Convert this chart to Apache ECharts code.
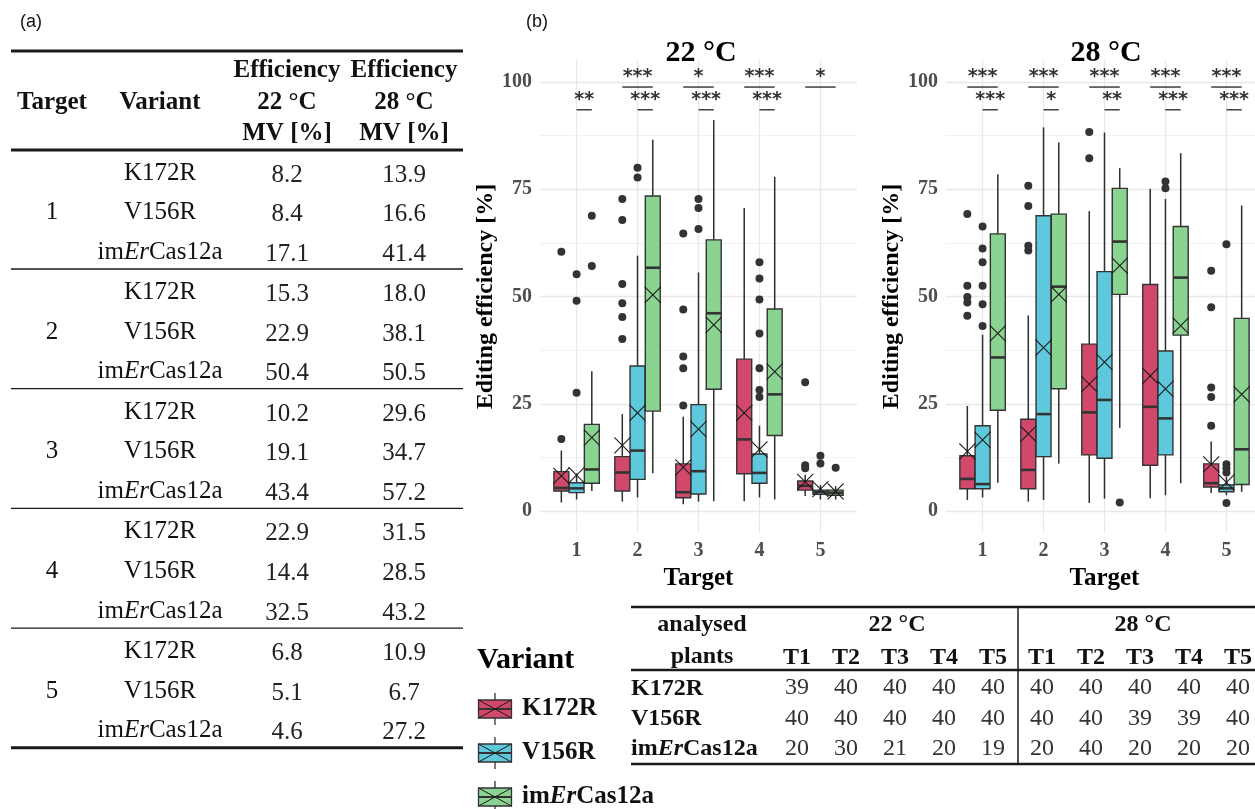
<!DOCTYPE html>
<html><head><meta charset="utf-8">
<script src="https://cdn.jsdelivr.net/npm/echarts@6/dist/echarts.min.js"></script>
<style>html,body{margin:0;padding:0;background:#fff}#c{width:1255px;height:809px}</style>
</head><body><div id="c"></div>
<script>
// ---------------- data ----------------
const targets = ['1', '2', '3', '4', '5'];
const variants = ['K172R', 'V156R', 'imErCas12a'];
const yTicks = [0, 25, 50, 75, 100];
const temps = ['22 °C', '28 °C'];

// box statistics per target: [low whisker, Q1, median, Q3, high whisker]
const box22K = [[2.0, 4.7, 5.4, 9.2, 14.1], [2.2, 4.7, 9.0, 12.7, 22.6], [1.6, 3.1, 4.4, 11.0, 22.0], [2.3, 8.7, 16.7, 35.4, 70.6], [3.5, 4.9, 5.9, 7.0, 8.5]];
const box22V = [[2.7, 4.3, 5.3, 6.6, 8.8], [3.2, 7.4, 14.1, 33.8, 59.5], [2.2, 4.0, 9.3, 24.8, 55.6], [3.2, 6.5, 8.9, 13.3, 19.9], [2.7, 3.9, 4.4, 4.9, 6.1]];
const box22I = [[4.7, 6.5, 9.7, 20.2, 32.6], [8.8, 23.3, 56.7, 73.4, 86.5], [2.3, 28.4, 46.1, 63.2, 91.1], [2.7, 17.6, 27.2, 47.1, 77.9], [2.7, 3.7, 4.3, 4.9, 5.8]];
const box28K = [[2.6, 5.2, 7.5, 12.9, 24.5], [2.2, 5.2, 9.6, 21.4, 45.6], [1.9, 13.1, 23.0, 38.9, 69.9], [3.0, 10.7, 24.3, 52.8, 75.1], [4.2, 5.6, 6.5, 11.0, 16.2]];
const box28V = [[3.2, 5.2, 6.3, 19.9, 41.1], [2.6, 12.7, 22.6, 68.8, 89.4], [2.9, 12.3, 25.9, 55.8, 88.2], [3.7, 13.1, 21.6, 37.3, 72.7], [3.7, 4.5, 5.3, 6.1, 8.0]];
const box28I = [[6.6, 23.5, 35.8, 64.6, 78.5], [11.1, 28.5, 52.3, 69.2, 85.9], [19.4, 50.5, 62.8, 75.2, 79.9], [6.5, 41.0, 54.4, 66.3, 83.4], [4.5, 6.2, 14.4, 44.9, 71.2]];

// mean values (MV) per target
const mean22K = [8.2, 15.3, 10.2, 22.9, 6.8];
const mean22V = [8.4, 22.9, 19.1, 14.4, 5.1];
const mean22I = [17.1, 50.4, 43.4, 32.5, 4.6];
const mean28K = [13.9, 18.0, 29.6, 31.5, 10.9];
const mean28V = [16.6, 38.1, 34.7, 28.5, 6.7];
const mean28I = [41.4, 50.5, 57.2, 43.2, 27.2];

// outliers per target
const out22K = [[60.4, 16.8], [72.7, 67.8, 52.9, 48.4, 45.2, 40.1], [64.7, 47.0, 36.0, 33.3, 24.6], [], [30.0, 10.7, 10.0]];
const out22V = [[55.2, 49.0, 27.6], [80.0, 77.7], [72.7, 70.6, 65.7], [58.0, 54.2, 49.3, 41.4, 33.3, 28.2, 26.6], [12.9, 11.1]];
const out22I = [[68.8, 57.1], [], [], [], [10.1]];
const out28K = [[69.2, 52.5, 49.9, 48.6, 45.5], [75.8, 71.1, 61.8, 60.7], [88.3, 82.2], [], [56.0, 47.5, 28.8, 26.6, 19.9]];
const out28V = [[66.3, 61.2, 58.0, 52.5, 48.2, 43.1], [], [], [76.8, 75.2], [62.2, 10.9, 10.0, 9.0, 1.9]];
const out28I = [[], [], [2.0], [], []];

// significance: K172R vs imErCas12a (top), V156R vs imErCas12a (bottom)
const sig22Top = ['', '***', '*', '***', '*'];
const sig22Bot = ['**', '***', '***', '***', ''];
const sig28Top = ['***', '***', '***', '***', '***'];
const sig28Bot = ['***', '*', '**', '***', '***'];
const sigLevels = [98.8, 93.5];

// analysed plants
const plants22K = [39, 40, 40, 40, 40];
const plants22V = [40, 40, 40, 40, 40];
const plants22I = [20, 30, 21, 20, 19];
const plants28K = [40, 40, 40, 40, 40];
const plants28V = [40, 40, 39, 39, 40];
const plants28I = [20, 40, 20, 20, 20];

// ---------------- style ----------------
const colors = ['#D2486B', '#5EC9DC', '#8BD390'];
const dodge = [-0.25, 0, 0.25];
const SERIF = '"Liberation Serif", "Times New Roman", serif';
const INK = '#333333';

const boxes = [[box22K, box22V, box22I], [box28K, box28V, box28I]];
const means = [[mean22K, mean22V, mean22I], [mean28K, mean28V, mean28I]];
const outs = [[out22K, out22V, out22I], [out28K, out28V, out28I]];
const sigs = [[sig22Top, sig22Bot], [sig28Top, sig28Bot]];
const plants = [[plants22K, plants22V, plants22I], [plants28K, plants28V, plants28I]];

const series = [];
const xAxes = [], yAxes = [];
const gridLefts = [540, 946];
const grids = gridLefts.map(l => ({left: l, top: 60, width: 317, height: 473, outerBoundsMode: 'none', containLabel: false}));

for (let g = 0; g < 2; g++) {
  xAxes.push({
    gridIndex: g, type: 'value', min: 0.4, max: 5.6,
    axisLine: {show: false}, axisTick: {show: false}, splitLine: {show: false},
    axisLabel: {customValues: targets.map((t, i) => i + 1), formatter: v => targets[Math.round(v) - 1] || '',
      color: '#4D4D4D', fontFamily: SERIF, fontWeight: 'bold', fontSize: 20, margin: 8},
    name: 'Target', nameLocation: 'middle', nameGap: 30,
    nameTextStyle: {color: '#000', fontFamily: SERIF, fontWeight: 'bold', fontSize: 25}
  });
  yAxes.push({
    gridIndex: g, type: 'value', min: -5.1, max: 105.1,
    axisLine: {show: false}, axisTick: {show: false}, splitLine: {show: false},
    axisLabel: {customValues: yTicks, color: '#4D4D4D', fontFamily: SERIF, fontWeight: 'bold', fontSize: 20, margin: 8},
    name: 'Editing efficiency [%]', nameLocation: 'middle', nameGap: 41, nameRotate: 90,
    nameTextStyle: {color: '#000', fontFamily: SERIF, fontWeight: 'bold', fontSize: 24}
  });

  // grid lines
  const gl = [];
  yTicks.forEach(v => gl.push({yAxis: v, lineStyle: {color: '#E8E8E8', width: 1.3, type: 'solid'}}));
  yTicks.slice(0, -1).forEach((v, i) => gl.push({yAxis: (v + yTicks[i + 1]) / 2, lineStyle: {color: '#F1F1F1', width: 0.9, type: 'solid'}}));
  targets.forEach((t, i) => gl.push({xAxis: i + 1, lineStyle: {color: '#E8E8E8', width: 1.3, type: 'solid'}}));
  series.push({
    type: 'line', xAxisIndex: g, yAxisIndex: g, data: [], z: 0, silent: true,
    markLine: {z: 0, silent: true, symbol: ['none', 'none'], label: {show: false}, animation: false, data: gl}
  });

  for (let v = 0; v < 3; v++) {
    const col = colors[v];
    series.push({
      type: 'custom', name: variants[v], xAxisIndex: g, yAxisIndex: g, z: 3,
      data: boxes[g][v].map((b, i) => [i + 1 + dodge[v]].concat(b)),
      encode: {x: 0, y: [1, 2, 3, 4, 5]},
      renderItem: (params, api) => {
        const x = api.value(0);
        const p = [1, 2, 3, 4, 5].map(k => api.coord([x, api.value(k)]));
        const w = api.size([0.245, 0])[0];
        const cx = p[0][0];
        const st = {stroke: '#2E2E2E', lineWidth: 1.5};
        return {type: 'group', children: [
          {type: 'line', shape: {x1: cx, y1: p[0][1], x2: cx, y2: p[1][1]}, style: st},
          {type: 'line', shape: {x1: cx, y1: p[3][1], x2: cx, y2: p[4][1]}, style: st},
          {type: 'rect', shape: {x: cx - w / 2, y: p[3][1], width: w, height: p[1][1] - p[3][1]}, style: {fill: col, stroke: INK, lineWidth: 1.4}},
          {type: 'line', shape: {x1: cx - w / 2, y1: p[2][1], x2: cx + w / 2, y2: p[2][1]}, style: {stroke: INK, lineWidth: 2.6}}
        ]};
      }
    });
  }
  for (let v = 0; v < 3; v++) {
    const pts = [];
    outs[g][v].forEach((arr, i) => arr.forEach(val => pts.push([i + 1 + dodge[v], val])));
    series.push({
      type: 'scatter', xAxisIndex: g, yAxisIndex: g, z: 4, data: pts,
      symbol: 'circle', symbolSize: 8, itemStyle: {color: INK, opacity: 1}, silent: true
    });
  }
  for (let v = 0; v < 3; v++) {
    series.push({
      type: 'custom', xAxisIndex: g, yAxisIndex: g, z: 5,
      data: means[g][v].map((m, i) => [i + 1 + dodge[v], m]),
      encode: {x: 0, y: 1},
      renderItem: (params, api) => {
        const p = api.coord([api.value(0), api.value(1)]);
        const h = 8;
        const st = {stroke: '#1A1A1A', lineWidth: 1.1};
        return {type: 'group', children: [
          {type: 'line', shape: {x1: p[0] - h, y1: p[1] - h, x2: p[0] + h, y2: p[1] + h}, style: st},
          {type: 'line', shape: {x1: p[0] - h, y1: p[1] + h, x2: p[0] + h, y2: p[1] - h}, style: st}
        ]};
      }
    });
  }
  // significance brackets
  for (let r = 0; r < 2; r++) {
    const arr = sigs[g][r];
    const data = [];
    arr.forEach((s, i) => { if (s) data.push([i + 1 + dodge[r], i + 1 + dodge[2], sigLevels[r], i]); });
    series.push({
      type: 'custom', xAxisIndex: g, yAxisIndex: g, z: 5, data: data,
      encode: {x: [0, 1], y: 2},
      renderItem: (params, api) => {
        const a = api.coord([api.value(0), api.value(2)]);
        const b = api.coord([api.value(1), api.value(2)]);
        const label = arr[api.value(3)];
        return {type: 'group', children: [
          {type: 'line', shape: {x1: a[0], y1: a[1], x2: b[0], y2: b[1]}, style: {stroke: '#222', lineWidth: 1.3}},
          {type: 'text', x: (a[0] + b[0]) / 2, y: a[1] - 10, style: {text: label, fill: '#333', font: 'bold 19px "DejaVu Sans"', align: 'center', verticalAlign: 'middle'}}
        ]};
      }
    });
  }
}

// ---------------- graphic: titles, legend, tables ----------------
const gfx = [];
function txt(x, y, text, font, opts) {
  gfx.push(Object.assign({type: 'text', x: x, y: y, silent: true,
    style: Object.assign({text: text, font: font, fill: '#111', align: 'center', verticalAlign: 'middle'}, opts || {})}));
}
function hline(x1, x2, y, w) {
  gfx.push({type: 'line', silent: true, shape: {x1: x1, y1: y, x2: x2, y2: y}, style: {stroke: '#1A1A1A', lineWidth: w}});
}
const imRich = (font) => ({n: {font: font, fill: '#111'}, i: {font: 'italic ' + font, fill: '#111'}});
function variantText(x, y, v, font, align) {
  if (v === 2) {
    gfx.push({type: 'text', x: x, y: y, silent: true, style: {text: '{n|im}{i|Er}{n|Cas12a}', rich: imRich(font), align: align || 'center', verticalAlign: 'middle'}});
  } else {
    txt(x, y, variants[v], font, {align: align || 'center'});
  }
}

txt(20, 22, '(a)', '18px "Liberation Sans", Arial, sans-serif', {align: 'left'});
txt(526, 22, '(b)', '18px "Liberation Sans", Arial, sans-serif', {align: 'left'});
txt(701, 53, temps[0], 'bold 30px ' + SERIF, {fill: '#000'});
txt(1106, 53, temps[1], 'bold 30px ' + SERIF, {fill: '#000'});

// table (a)
const HB = 'bold 25px ' + SERIF, BR = '25px ' + SERIF;
const colX = [52, 160, 287, 404];
hline(11, 463, 51, 3);
txt(colX[2], 71, 'Efficiency', HB); txt(colX[3], 71, 'Efficiency', HB);
txt(colX[0], 103, 'Target', HB); txt(colX[1], 103, 'Variant', HB);
txt(colX[2], 103, temps[0], HB); txt(colX[3], 103, temps[1], HB);
txt(colX[2], 134, 'MV [%]', HB); txt(colX[3], 134, 'MV [%]', HB);
hline(11, 463, 150, 3);
for (let t = 0; t < 5; t++) {
  const y0 = 173 + t * 119.6;
  txt(colX[0], y0 + 39.6, targets[t], BR);
  for (let v = 0; v < 3; v++) {
    const y = y0 + v * 39.6;
    variantText(colX[1], y, v, BR);
    txt(colX[2], y + 2, means[0][v][t].toFixed(1), BR, {fill: '#222'});
    txt(colX[3], y + 2, means[1][v][t].toFixed(1), BR, {fill: '#222'});
  }
  hline(11, 463, 269 + t * 119.7, t === 4 ? 3 : 1.3);
}

// legend
txt(477, 660, 'Variant', 'bold 30px ' + SERIF, {align: 'left', fill: '#000'});
for (let v = 0; v < 3; v++) {
  const cy = 709 + v * 44, cx = 495, hw = 16.5, hh = 9;
  gfx.push({type: 'line', silent: true, shape: {x1: cx, y1: cy - 16, x2: cx, y2: cy + 16}, style: {stroke: INK, lineWidth: 1.3}});
  gfx.push({type: 'rect', silent: true, shape: {x: cx - hw, y: cy - hh, width: 2 * hw, height: 2 * hh}, style: {fill: colors[v], stroke: INK, lineWidth: 1.3}});
  gfx.push({type: 'line', silent: true, shape: {x1: cx - hw, y1: cy, x2: cx + hw, y2: cy}, style: {stroke: INK, lineWidth: 2}});
  gfx.push({type: 'line', silent: true, shape: {x1: cx - hw, y1: cy - hh, x2: cx + hw, y2: cy + hh}, style: {stroke: '#1A1A1A', lineWidth: 1}});
  gfx.push({type: 'line', silent: true, shape: {x1: cx - hw, y1: cy + hh, x2: cx + hw, y2: cy - hh}, style: {stroke: '#1A1A1A', lineWidth: 1}});
  variantText(522, cy, v, 'bold 25px ' + SERIF, 'left');
}

// analysed plants table
const TB = 'bold 24px ' + SERIF, TR = '24px ' + SERIF;
hline(631, 1255, 607, 2.5);
hline(631, 1255, 670, 2.5);
hline(631, 1255, 764, 2.5);
gfx.push({type: 'line', silent: true, shape: {x1: 1018, y1: 607, x2: 1018, y2: 764}, style: {stroke: '#1A1A1A', lineWidth: 1.5}});
txt(702, 625, 'analysed', TB); txt(702, 657, 'plants', TB);
txt(897, 625, temps[0], TB); txt(1143, 625, temps[1], TB);
const colT = [797, 1042];
for (let g = 0; g < 2; g++) {
  for (let t = 0; t < 5; t++) {
    const x = colT[g] + t * 49;
    txt(x, 658, 'T' + targets[t], TB);
    for (let v = 0; v < 3; v++) txt(x, 688 + v * 30.5, String(plants[g][v][t]), TR, {fill: '#333'});
  }
}
for (let v = 0; v < 3; v++) variantText(631, 689 + v * 30, v, TB, 'left');

const chart = echarts.init(document.getElementById('c'), null, {renderer: 'canvas'});
chart.setOption({
  animation: false,
  backgroundColor: '#fff',
  grid: grids,
  xAxis: xAxes,
  yAxis: yAxes,
  series: series,
  graphic: {elements: gfx}
});
</script></body></html>
